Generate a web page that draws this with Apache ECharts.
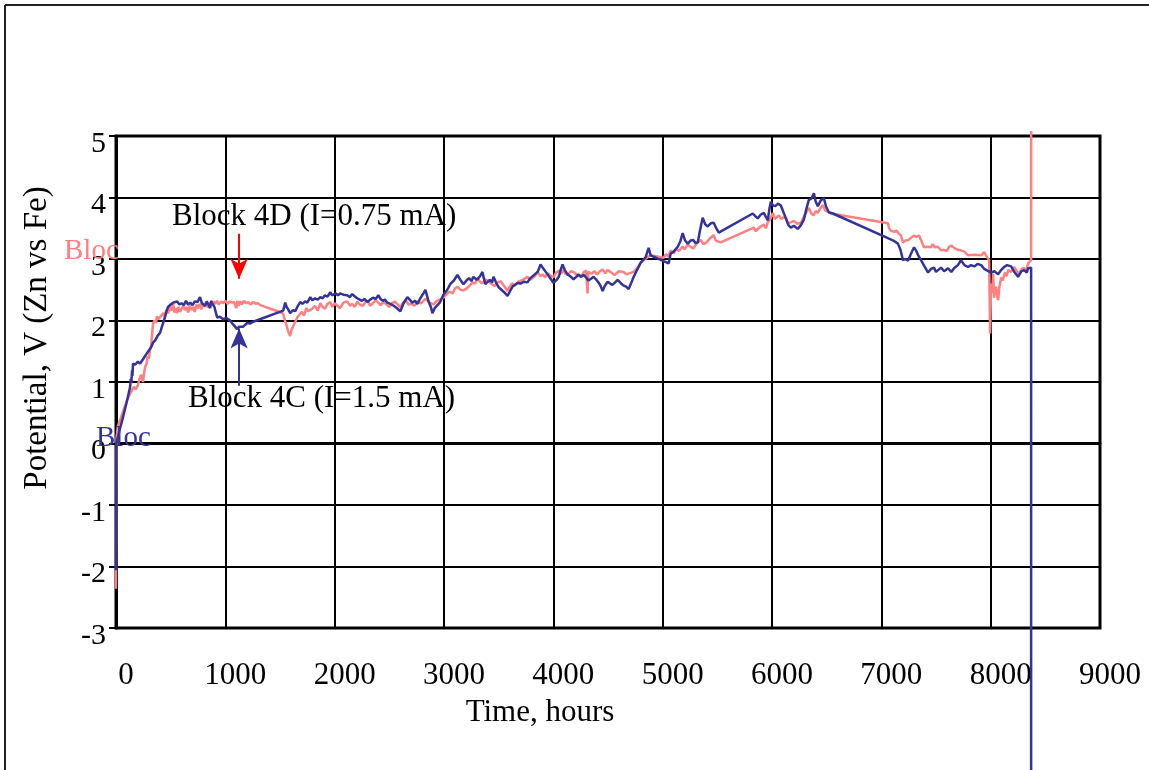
<!DOCTYPE html>
<html>
<head>
<meta charset="utf-8">
<script src="https://cdn.jsdelivr.net/npm/echarts@6/dist/echarts.min.js"></script>
<style>html,body{margin:0;padding:0;background:#fff}#c{width:1149px;height:770px}</style>
</head>
<body>
<div id="c"></div>
<script>
// Block 4D (I=0.75 mA) — [hours, volts]
const block4D = [[0,-2.36],[5,0.1],[18,0.29],[45,0.42],[70,0.55],[100,0.7],[128,0.81],[145,0.86],[160,0.92],[180,0.88],[200,0.95],[215,1.05],[230,1.12],[247,1.0],[258,1.15],[266,1.24],[280,1.3],[290,1.42],[300,1.38],[311,1.51],[322,1.6],[330,1.78],[339,1.95],[352,2.0],[365,1.96],[375,2.07],[388,2.02],[400,2.0],[415,2.08],[430,2.12],[445,2.06],[460,2.17],[478,2.12],[495,2.22],[510,2.16],[522,2.28],[535,2.13],[545,2.2],[558,2.12],[570,2.22],[585,2.14],[600,2.12],[615,2.24],[630,2.17],[645,2.22],[660,2.13],[675,2.24],[690,2.17],[705,2.22],[720,2.14],[735,2.26],[750,2.2],[765,2.27],[780,2.18],[795,2.28],[810,2.22],[825,2.3],[840,2.21],[860,2.29],[880,2.25],[895,2.31],[907,2.27],[925,2.32],[940,2.26],[960,2.31],[980,2.28],[1000,2.32],[1020,2.27],[1040,2.31],[1060,2.29],[1080,2.3],[1100,2.2],[1110,2.32],[1120,2.24],[1135,2.31],[1150,2.26],[1170,2.32],[1190,2.28],[1210,2.3],[1230,2.26],[1255,2.3],[1280,2.27],[1300,2.28],[1319,2.25],[1400,2.2],[1480,2.15],[1529,2.11],[1545,2.0],[1560,1.92],[1575,1.82],[1593,1.75],[1605,1.85],[1620,1.82],[1640,1.98],[1658,2.05],[1680,2.1],[1700,2.14],[1720,2.08],[1740,2.2],[1760,2.15],[1777,2.12],[1800,2.2],[1820,2.24],[1845,2.16],[1869,2.28],[1890,2.22],[1910,2.19],[1935,2.27],[1960,2.3],[1980,2.22],[2000,2.28],[2025,2.24],[2050,2.2],[2080,2.29],[2115,2.31],[2140,2.24],[2160,2.27],[2185,2.22],[2207,2.31],[2230,2.26],[2260,2.24],[2280,2.3],[2299,2.32],[2325,2.24],[2350,2.28],[2375,2.33],[2399,2.29],[2420,2.25],[2445,2.3],[2470,2.27],[2500,2.22],[2525,2.28],[2550,2.31],[2575,2.26],[2601,2.22],[2625,2.29],[2650,2.33],[2675,2.26],[2700,2.27],[2730,2.24],[2757,2.31],[2790,2.28],[2830,2.35],[2865,2.3],[2903,2.26],[2930,2.31],[2960,2.34],[2995,2.37],[3020,2.42],[3050,2.47],[3080,2.44],[3100,2.52],[3123,2.55],[3150,2.5],[3180,2.49],[3214,2.53],[3240,2.58],[3260,2.62],[3285,2.6],[3306,2.69],[3330,2.63],[3350,2.6],[3375,2.67],[3400,2.65],[3430,2.6],[3460,2.56],[3490,2.62],[3517,2.64],[3550,2.56],[3581,2.48],[3600,2.55],[3620,2.6],[3650,2.57],[3680,2.63],[3720,2.66],[3764,2.71],[3785,2.66],[3800,2.63],[3830,2.72],[3856,2.79],[3880,2.72],[3900,2.75],[3925,2.7],[3947,2.77],[3975,2.73],[4000,2.7],[4025,2.78],[4050,2.81],[4070,2.76],[4094,2.82],[4110,2.76],[4130,2.74],[4160,2.8],[4185,2.79],[4215,2.74],[4250,2.71],[4280,2.79],[4300,2.81],[4313,2.44],[4320,2.79],[4350,2.76],[4375,2.8],[4400,2.75],[4425,2.8],[4450,2.83],[4475,2.77],[4497,2.82],[4530,2.78],[4560,2.74],[4600,2.8],[4643,2.79],[4670,2.75],[4700,2.77],[4735,2.79],[4770,2.86],[4799,2.94],[4820,2.97],[4840,3.0],[4863,3.03],[4890,3.06],[5009,3.02],[5030,3.08],[5050,3.04],[5073,3.14],[5100,3.09],[5125,3.17],[5150,3.13],[5180,3.2],[5200,3.16],[5229,3.23],[5255,3.2],[5280,3.17],[5310,3.25],[5348,3.31],[5375,3.24],[5400,3.27],[5430,3.33],[5467,3.39],[5485,3.3],[5500,3.33],[5531,3.27],[5834,3.51],[5850,3.45],[5870,3.49],[5900,3.53],[5925,3.56],[5945,3.5],[5962,3.6],[5985,3.65],[6008,3.75],[6025,3.65],[6040,3.62],[6063,3.71],[6085,3.65],[6108,3.68],[6130,3.66],[6145,3.58],[6175,3.6],[6200,3.62],[6235,3.57],[6264,3.59],[6285,3.66],[6300,3.71],[6320,3.78],[6337,3.83],[6360,3.74],[6380,3.71],[6400,3.78],[6419,3.75],[6440,3.82],[6465,3.88],[6485,3.79],[6500,3.77],[6538,3.74],[7061,3.58],[7070,3.5],[7088,3.46],[7105,3.49],[7120,3.44],[7140,3.46],[7161,3.41],[7180,3.38],[7198,3.27],[7220,3.3],[7250,3.31],[7275,3.35],[7299,3.38],[7320,3.36],[7345,3.38],[7365,3.3],[7390,3.19],[7420,3.2],[7454,3.19],[7470,3.24],[7490,3.19],[7518,3.2],[7546,3.14],[7575,3.15],[7600,3.13],[7620,3.2],[7640,3.22],[7665,3.18],[7700,3.15],[7729,3.14],[7760,3.12],[7793,3.06],[7850,3.07],[7913,3.06],[7940,3.11],[7960,3.05],[7986,2.98],[7995,1.79],[8004,2.6],[8015,2.45],[8022,2.76],[8032,2.37],[8040,2.5],[8050,2.55],[8060,2.4],[8068,2.33],[8080,2.55],[8096,2.7],[8110,2.65],[8130,2.78],[8145,2.72],[8160,2.82],[8185,2.79],[8215,2.87],[8240,2.8],[8260,2.76],[8280,2.83],[8300,2.86],[8320,2.8],[8343,2.93],[8360,2.95],[8370,2.98],[8370,5.08]];

// Block 4C (I=1.5 mA) — [hours, volts]
const block4C = [[0,-2.06],[3,0],[30,0.2],[60,0.4],[95,0.65],[128,0.91],[135,1.05],[140,0.98],[147,1.19],[150,1.1],[156,1.3],[175,1.28],[200,1.33],[220,1.3],[247,1.37],[265,1.4],[284,1.47],[300,1.45],[320,1.56],[339,1.64],[360,1.68],[380,1.75],[403,1.8],[420,1.9],[435,1.98],[449,2.06],[462,2.15],[476,2.22],[500,2.26],[522,2.29],[540,2.27],[560,2.31],[580,2.26],[600,2.28],[620,2.25],[640,2.32],[660,2.26],[680,2.29],[700,2.25],[720,2.31],[745,2.3],[769,2.38],[785,2.28],[800,2.27],[815,2.24],[830,2.31],[845,2.26],[861,2.2],[870,2.32],[880,2.28],[900,2.22],[925,2.05],[950,2.06],[980,2.02],[1010,2.04],[1044,2.0],[1060,1.96],[1080,1.92],[1095,1.9],[1108,1.86],[1125,1.9],[1140,1.88],[1163,1.9],[1180,1.93],[1200,1.96],[1225,1.95],[1255,1.98],[1529,2.16],[1548,2.29],[1560,2.22],[1575,2.18],[1593,2.12],[1610,2.14],[1620,2.17],[1640,2.15],[1658,2.22],[1670,2.25],[1685,2.3],[1705,2.27],[1730,2.31],[1750,2.29],[1777,2.38],[1795,2.33],[1820,2.36],[1845,2.34],[1869,2.38],[1890,2.36],[1910,2.41],[1935,2.39],[1960,2.46],[1975,2.41],[1987,2.43],[2010,2.44],[2030,2.41],[2050,2.44],[2080,2.42],[2115,2.41],[2140,2.38],[2160,2.43],[2185,2.39],[2207,2.36],[2230,2.34],[2250,2.32],[2275,2.35],[2299,2.3],[2325,2.34],[2350,2.37],[2375,2.35],[2399,2.41],[2420,2.35],[2440,2.32],[2460,2.34],[2482,2.29],[2510,2.27],[2540,2.24],[2570,2.2],[2601,2.15],[2630,2.28],[2665,2.38],[2690,2.33],[2710,2.29],[2735,2.32],[2757,2.27],[2780,2.35],[2800,2.41],[2815,2.45],[2830,2.5],[2845,2.4],[2860,2.3],[2880,2.22],[2894,2.12],[2915,2.2],[2940,2.25],[2965,2.3],[2995,2.42],[3030,2.5],[3060,2.6],[3090,2.65],[3123,2.74],[3150,2.66],[3178,2.59],[3205,2.65],[3230,2.69],[3250,2.64],[3269,2.71],[3300,2.66],[3330,2.72],[3352,2.79],[3365,2.68],[3379,2.59],[3400,2.63],[3420,2.66],[3440,2.62],[3453,2.71],[3475,2.62],[3500,2.54],[3525,2.5],[3550,2.46],[3565,2.44],[3581,2.4],[3605,2.48],[3630,2.56],[3650,2.58],[3672,2.61],[3700,2.6],[3730,2.63],[3764,2.62],[3785,2.68],[3800,2.71],[3830,2.75],[3856,2.79],[3870,2.85],[3883,2.91],[3910,2.84],[3947,2.75],[3975,2.68],[4002,2.61],[4030,2.66],[4050,2.71],[4070,2.84],[4084,2.91],[4105,2.82],[4130,2.75],[4155,2.72],[4185,2.67],[4210,2.71],[4230,2.75],[4255,2.71],[4277,2.74],[4300,2.7],[4320,2.65],[4345,2.68],[4368,2.71],[4395,2.66],[4420,2.6],[4435,2.55],[4451,2.48],[4470,2.56],[4497,2.63],[4520,2.6],[4540,2.58],[4565,2.62],[4588,2.66],[4615,2.61],[4640,2.57],[4665,2.55],[4689,2.51],[4710,2.6],[4735,2.71],[4765,2.82],[4799,2.94],[4820,2.98],[4845,3.03],[4860,3.12],[4872,3.18],[4890,3.06],[5055,2.93],[5073,3.09],[5100,3.12],[5138,3.2],[5160,3.28],[5183,3.42],[5205,3.3],[5229,3.25],[5255,3.3],[5280,3.31],[5300,3.26],[5321,3.27],[5340,3.45],[5366,3.67],[5390,3.56],[5412,3.53],[5440,3.58],[5467,3.59],[5490,3.5],[5513,3.43],[5824,3.74],[5845,3.7],[5870,3.66],[5895,3.72],[5925,3.75],[5945,3.68],[5962,3.63],[5975,3.8],[5989,3.93],[6010,3.87],[6030,3.86],[6055,3.9],[6081,3.87],[6105,3.76],[6127,3.66],[6150,3.55],[6172,3.51],[6200,3.54],[6236,3.49],[6265,3.55],[6291,3.64],[6315,3.82],[6337,3.96],[6360,3.98],[6383,4.07],[6400,3.93],[6419,3.86],[6445,3.95],[6474,3.99],[6495,3.85],[6520,3.76],[6557,3.74],[7070,3.33],[7110,3.3],[7152,3.25],[7175,3.15],[7198,2.98],[7220,3.0],[7244,2.97],[7270,3.08],[7299,3.19],[7317,3.14],[7340,3.05],[7363,2.98],[7395,2.88],[7427,2.78],[7455,2.84],[7482,2.86],[7500,2.79],[7518,2.82],[7546,2.86],[7575,2.8],[7610,2.85],[7640,2.79],[7665,2.85],[7700,2.9],[7729,2.98],[7760,2.9],[7793,2.87],[7820,2.9],[7850,2.88],[7880,2.92],[7913,2.9],[7940,2.84],[7970,2.81],[8004,2.78],[8035,2.8],[8068,2.75],[8095,2.82],[8123,2.87],[8150,2.9],[8187,2.88],[8220,2.78],[8251,2.71],[8280,2.8],[8306,2.82],[8330,2.78],[8343,2.85],[8370,2.86],[8370,-6.5]];

const xTicks = [0,1000,2000,3000,4000,5000,6000,7000,8000,9000];
const yTicks = [-3,-2,-1,0,1,2,3,4,5];
const xTitle = 'Time, hours';
const yTitle = 'Potential, V (Zn vs Fe)';
const labelRed = 'Block 4D (I=0.75 mA)';
const labelBlue = 'Block 4C (I=1.5 mA)';
const arrowRed = [[1126,3.41],[1126,2.68]];
const arrowBlue = [[1126,0.94],[1126,1.87]];

const FONT = '"Liberation Serif","Times New Roman",serif';
const RED = '#ff8080', BLUE = '#333399';
const chart = echarts.init(document.getElementById('c'), null, {renderer:'canvas'});
chart.setOption({
  animation:false,
  backgroundColor:'#fff',
  grid:{left:116,right:49,top:136,bottom:142,show:true,borderColor:'#000',borderWidth:3,containLabel:false},
  xAxis:{type:'value',min:xTicks[0],max:xTicks[xTicks.length-1],interval:1000,
    axisLine:{show:true,lineStyle:{color:'#000',width:3}},
    axisTick:{show:true,length:7,lineStyle:{color:'#000',width:2}},
    axisLabel:{fontFamily:FONT,fontSize:31,color:'#000',margin:32,padding:[0,0,0,20],
      formatter:v=>String(v)},
    splitLine:{show:true,lineStyle:{color:'#000',width:2}}},
  yAxis:{type:'value',min:yTicks[0],max:yTicks[yTicks.length-1],interval:1,
    axisLine:{show:true,lineStyle:{color:'#000',width:3}},
    axisTick:{show:true,length:7,lineStyle:{color:'#000',width:2}},
    axisLabel:{fontFamily:FONT,fontSize:30,color:'#000',margin:10,verticalAlign:'top',lineHeight:16,
      formatter:v=>String(v)},
    splitLine:{show:true,lineStyle:{color:'#000',width:2}}},
  series:[
    {type:'line',name:labelRed,data:block4D,showSymbol:false,clip:false,
      lineStyle:{color:RED,width:2.5},itemStyle:{color:RED},z:3,
      markLine:{silent:true,symbol:['none','arrow'],symbolSize:[13,20],animation:false,
        lineStyle:{color:'#ff0000',width:2,type:'solid'},label:{show:false},
        data:[[{coord:arrowRed[0]},{coord:arrowRed[1]}]]}},
    {type:'line',name:labelBlue,data:block4C,showSymbol:false,clip:false,
      lineStyle:{color:BLUE,width:2.5},itemStyle:{color:BLUE},z:4,
      markLine:{silent:true,symbol:['none','arrow'],symbolSize:[13,20],animation:false,
        lineStyle:{color:BLUE,width:2,type:'solid'},label:{show:false},
        data:[[{coord:arrowBlue[0]},{coord:arrowBlue[1]}]]}}
  ],
  graphic:[
    {type:'line',shape:{x1:5,y1:5,x2:1149,y2:5},style:{stroke:'#222',lineWidth:2},z:10},
    {type:'line',shape:{x1:5,y1:5,x2:5,y2:770},style:{stroke:'#222',lineWidth:2},z:10},
    {type:'text',x:540,y:713,style:{text:xTitle,font:'31px '+FONT,fill:'#000',textAlign:'center',textVerticalAlign:'middle'},z:10},
    {type:'text',x:37,y:338,rotation:Math.PI/2,style:{text:yTitle,font:'33px '+FONT,fill:'#000',textAlign:'center',textVerticalAlign:'middle'},z:10},
    {type:'text',left:172,top:201,style:{text:labelRed,font:'31px '+FONT,fill:'#000'},z:10},
    {type:'text',left:188,top:383,style:{text:labelBlue,font:'31px '+FONT,fill:'#000'},z:10},
    {type:'text',left:64,top:237,style:{text:'Bloc',font:'29px '+FONT,fill:RED},z:10},
    {type:'text',left:96,top:424,style:{text:'Bloc',font:'29px '+FONT,fill:BLUE},z:10}
  ]
});
</script>
</body>
</html>
